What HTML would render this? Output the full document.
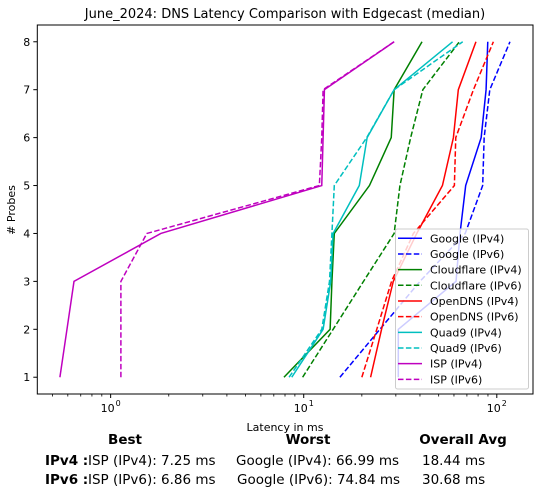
<!DOCTYPE html>
<html><head><meta charset="utf-8"><style>
body{margin:0;background:#fff;}
svg{display:block;font-family:"DejaVu Sans","Liberation Sans",sans-serif;}
</style></head><body>
<svg id="chart" width="541" height="496" viewBox="0 0 541 496">
<rect width="541" height="496" fill="#fff"/>
<text x="285" y="18" font-size="13" text-anchor="middle" fill="#000">June_2024: DNS Latency Comparison with Edgecast (median)</text>
<g id="plot"></g>
<g id="legend"></g>
<text x="285" y="431" font-size="11" text-anchor="middle">Latency in ms</text>
<text transform="translate(15,210) rotate(-90)" font-size="11" text-anchor="middle"># Probes</text>
<g font-size="13.5" fill="#000">
<text x="125" y="444" font-weight="bold" text-anchor="middle">Best</text>
<text x="308" y="444" font-weight="bold" text-anchor="middle">Worst</text>
<text x="463" y="444" font-weight="bold" text-anchor="middle">Overall Avg</text>
<text x="45" y="465" font-weight="bold">IPv4 :</text>
<text x="88" y="465">ISP (IPv4): 7.25 ms</text>
<text x="236" y="465">Google (IPv4): 66.99 ms</text>
<text x="422" y="465">18.44 ms</text>
<text x="45" y="484" font-weight="bold">IPv6 :</text>
<text x="88" y="484">ISP (IPv6): 6.86 ms</text>
<text x="237" y="484">Google (IPv6): 74.84 ms</text>
<text x="422" y="484">30.68 ms</text>
</g>
</svg>
<script>
const probes = [1,2,3,4,5,6,7,8];
const seriesNames = ["Google (IPv4)","Google (IPv6)","Cloudflare (IPv4)","Cloudflare (IPv6)","OpenDNS (IPv4)","OpenDNS (IPv6)","Quad9 (IPv4)","Quad9 (IPv6)","ISP (IPv4)","ISP (IPv6)"];
const googleV4 = [30.9,30.9,61.5,64.5,69,83,88,89.8];
const googleV6 = [15.4,24.8,40,68.6,84.5,86,92,117];
const cloudflareV4 = [7.9,13.7,14.0,14.4,21.9,28.4,29.4,41];
const cloudflareV6 = [9.87,14.2,20.4,29.4,31.5,35.8,41.4,64];
const opendnsV4 = [22.2,25.3,29.1,38.5,52.3,59.6,63.2,78];
const opendnsV6 = [20,23.9,28.5,37,60.3,61.3,75.7,96];
const quad9V4 = [8.67,12.6,13.8,14.2,19.4,21.3,29.4,59];
const quad9V6 = [8.4,12.4,13.6,14.0,14.4,21.2,29.4,66.6];
const ispV4 = [0.546,0.594,0.646,1.82,12.4,12.6,12.8,29.4];
const ispV6 = [1.13,1.13,1.13,1.54,12.05,12.4,12.6,29.4];
const xTickLabels = ["10","10","10"];
const xTickExps = [0,1,2];
const yTickLabels = ["1","2","3","4","5","6","7","8"];

const NS="http://www.w3.org/2000/svg";
const L=37.3,R=533,T=25,B=394;
const xMin=Math.log10(0.417),xMax=Math.log10(154),yMin=0.65,yMax=8.35;
const xs=v=>L+(Math.log10(v)-xMin)/(xMax-xMin)*(R-L);
const ys=v=>B-(v-yMin)/(yMax-yMin)*(B-T);
function mk(tag,attrs,parent){const e=document.createElementNS(NS,tag);for(const k in attrs)e.setAttribute(k,attrs[k]);parent.appendChild(e);return e;}
const plot=document.getElementById('plot');
const data=[googleV4,googleV6,cloudflareV4,cloudflareV6,opendnsV4,opendnsV6,quad9V4,quad9V6,ispV4,ispV6];
const colors=["#0000ff","#0000ff","#008000","#008000","#ff0000","#ff0000","#00bfbf","#00bfbf","#bf00bf","#bf00bf"];
data.forEach((arr,i)=>{
  const p=mk('polyline',{points:arr.map((v,j)=>xs(v).toFixed(2)+','+ys(probes[j]).toFixed(2)).join(' '),fill:'none',stroke:colors[i],'stroke-width':1.5,'stroke-dasharray':i%2?'5.5,2.4':'none'},plot);
  
  
});
const frame=mk('rect',{x:L,y:T,width:R-L,height:B-T,fill:'none',stroke:'#000','stroke-width':1},plot);


// y ticks
probes.forEach((p,i)=>{
  const y=ys(p);
  mk('line',{x1:L-4,x2:L,y1:y,y2:y,stroke:'#000'},plot);
  const t=mk('text',{x:L-7,y:y+4,'font-size':11,'text-anchor':'end'},plot);
  t.textContent=yTickLabels[i];
  
  
});
// x ticks
xTickExps.forEach((e,i)=>{
  const x=xs(Math.pow(10,e));
  mk('line',{x1:x,x2:x,y1:B,y2:B+4,stroke:'#000'},plot);
  const t=mk('text',{x:x-3,y:B+18,'font-size':11,'text-anchor':'middle'},plot);
  t.textContent=xTickLabels[i];
  
  
  const s=mk('text',{x:x+5,y:B+12,'font-size':8},plot);
  s.textContent=String(e);
});
for(let d=-1;d<=2;d++){for(let m=2;m<=9;m++){const v=m*Math.pow(10,d);if(Math.log10(v)<xMin||Math.log10(v)>xMax)continue;const x=xs(v);mk('line',{x1:x,x2:x,y1:B,y2:B+2.5,stroke:'#000','stroke-width':0.8},plot);}}
// legend
const lg=document.getElementById('legend');
const lb=mk('rect',{x:395.5,y:229,width:133,height:160,rx:2,fill:'#fff','fill-opacity':0.8,stroke:'#ccc','stroke-width':1},lg);


seriesNames.forEach((n,i)=>{
  const y=238.3+i*15.67;
  mk('line',{x1:398,x2:422,y1:y,y2:y,stroke:colors[i],'stroke-width':1.5,'stroke-dasharray':i%2?'5.5,2.4':'none'},lg);
  const t=mk('text',{x:430,y:y+4,'font-size':11},lg);
  t.textContent=n;
  
  
});
</script>
</body></html>
